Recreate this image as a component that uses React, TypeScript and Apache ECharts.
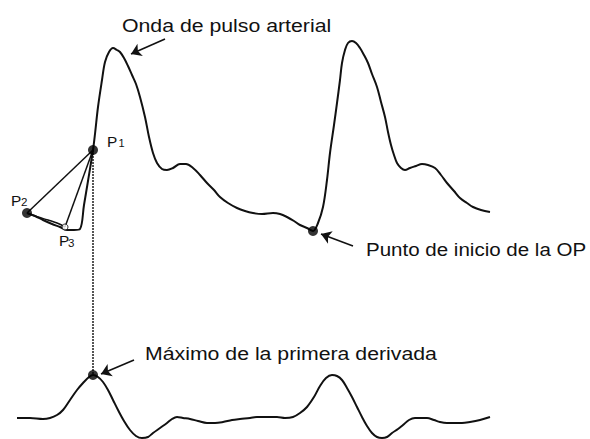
import React, { useEffect, useRef } from "react";
import * as echarts from "echarts";

// Arterial pulse wave: [time, amplitude]
const pulseWave: number[][] = [
  [27, 226], [35, 223], [43, 219], [52, 215], [60, 212], [67, 209], [74, 209], [80, 210],
  [84, 234], [88, 258], [93, 289], [95, 305], [98, 332], [102, 359], [105, 377], [109, 387],
  [113, 391], [117, 389], [120, 387], [124, 381], [128, 373], [132, 364], [136, 355], [140, 342],
  [145, 322], [149, 302], [153, 286], [157, 276], [162, 270], [167, 269], [173, 271], [180, 275],
  [186, 275], [193, 271], [200, 264], [207, 256], [214, 249], [220, 242], [228, 236], [237, 231],
  [245, 228], [253, 226], [262, 225], [273, 226], [280, 225], [287, 222], [294, 218], [300, 214],
  [307, 211], [313, 208], [318, 216], [323, 232], [327, 259], [330, 286], [334, 314], [337, 336],
  [340, 359], [342, 376], [345, 389], [348, 396], [352, 398], [356, 396], [360, 391], [364, 384],
  [368, 376], [372, 365], [377, 352], [381, 337], [385, 322], [388, 307], [391, 294], [394, 284],
  [397, 276], [401, 271], [405, 269], [410, 271], [416, 273], [422, 275], [428, 274], [435, 271],
  [441, 264], [447, 256], [454, 248], [460, 241], [467, 236], [473, 232], [481, 229], [490, 227],
];

// First derivative of the pulse wave: [time, amplitude]
const firstDerivative: number[][] = [
  [17, 21], [30, 21], [43, 20], [50, 21], [57, 24], [63, 29], [70, 39], [77, 49], [83, 56],
  [89, 62], [93, 64], [98, 62], [103, 57], [108, 49], [113, 39], [118, 29], [124, 18], [130, 9],
  [136, 3], [142, 1], [148, 2], [153, 6], [160, 11], [167, 16], [172, 20], [177, 22], [183, 21],
  [190, 20], [198, 18], [207, 16], [215, 16], [223, 17], [232, 19], [240, 20], [250, 21],
  [257, 22], [268, 22], [277, 22], [285, 21], [293, 22], [300, 26], [307, 32], [314, 42],
  [320, 53], [326, 61], [332, 64], [337, 63], [342, 59], [347, 51], [352, 42], [357, 32],
  [362, 22], [367, 13], [372, 6], [377, 2], [382, 1], [387, 2], [392, 6], [398, 10], [403, 14],
  [409, 19], [415, 21], [421, 21], [427, 21], [434, 19], [440, 17], [447, 16], [453, 16],
  [462, 16], [470, 17], [480, 19], [490, 22],
];

// Reference points
const pointP1 = [93, 289];
const pointP2 = [27, 226];
const pointP3 = [65, 212];
const onsetPoint = [313, 208];
const derivativeMax = [93, 64];

// Construction between P2, P3 and P1
const p2ToP3Curve: number[][] = [[27, 226], [38, 222], [48, 219], [57, 216], [65, 212]];

const FONT = "'Liberation Sans', Arial, sans-serif";
const INK = "#111";

export default function App() {
  const ref = useRef<HTMLDivElement>(null);

  useEffect(() => {
    document.body.style.margin = "0";
    const chart = echarts.init(ref.current!, null, { renderer: "svg" });

    const plainLine = (data: number[][], width: number, smooth: boolean | number = false) => ({
      type: "line",
      data,
      smooth,
      showSymbol: false,
      silent: true,
      lineStyle: { color: INK, width },
      z: 3,
    });

    const arrow = (from: number[], to: number[]) => [{ coord: from }, { coord: to }];

    const label = (text: string, x: number, y: number, size: number) => ({
      type: "text",
      x,
      y,
      scaleX: 1.1,
      style: { text, fontSize: size, fontFamily: FONT, fill: INK, verticalAlign: "middle" },
    });

    chart.setOption({
      animation: false,
      backgroundColor: "#fff",
      grid: { left: 0, right: 0, top: 0, bottom: 0 },
      xAxis: { type: "value", min: 0, max: 590, show: false },
      yAxis: { type: "value", min: 0, max: 439, show: false },
      series: [
        {
          ...plainLine(pulseWave, 2, 0.35),
          markLine: {
            silent: true,
            symbol: ["none", "arrow"],
            symbolSize: 10,
            label: { show: false },
            lineStyle: { color: INK, width: 1.6, type: "solid" },
            data: [
              arrow([165, 400], [131, 385]),
              arrow([353, 193], [321, 205]),
              arrow([134, 79], [101, 65]),
            ],
          },
        },
        plainLine(firstDerivative, 2, 0.35),
        plainLine([pointP2, pointP1], 1.5),
        plainLine([pointP1, pointP3], 1.5),
        plainLine(p2ToP3Curve, 1.5, 0.5),
        {
          type: "line",
          data: [pointP1, derivativeMax],
          showSymbol: false,
          silent: true,
          lineStyle: { color: "#555", width: 2, type: [2, 1] },
          z: 2,
        },
        {
          type: "scatter",
          data: [pointP1, pointP2, onsetPoint, derivativeMax],
          symbolSize: 10,
          itemStyle: { color: "#000" },
          silent: true,
          z: 5,
        },
        {
          type: "scatter",
          data: [pointP3],
          symbolSize: 6,
          itemStyle: { color: "#fff", borderColor: "#000", borderWidth: 1 },
          silent: true,
          z: 5,
        },
      ],
      graphic: [
        {
          type: "text", x: 122, y: 25.3, scaleX: 1.15,
          style: { text: "Onda de pulso arterial", fontSize: 18.5, fontFamily: FONT, fill: INK, verticalAlign: "middle" },
        },
        {
          type: "text", x: 366, y: 249.6, scaleX: 1.11,
          style: { text: "Punto de inicio de la OP", fontSize: 18.5, fontFamily: FONT, fill: INK, verticalAlign: "middle" },
        },
        {
          type: "text", x: 145, y: 353.3, scaleX: 1.15,
          style: { text: "Máximo de la primera derivada", fontSize: 18.5, fontFamily: FONT, fill: INK, verticalAlign: "middle" },
        },
        label("P", 107, 142, 14),
        label("1", 118.5, 143.5, 10),
        label("P", 11, 200.8, 14),
        label("2", 21, 202.5, 10.5),
        label("P", 59, 240.8, 14),
        label("3", 68, 242.8, 10.5),
      ],
    });

    return () => chart.dispose();
  }, []);

  return <div ref={ref} style={{ width: 590, height: 439 }} />;
}
